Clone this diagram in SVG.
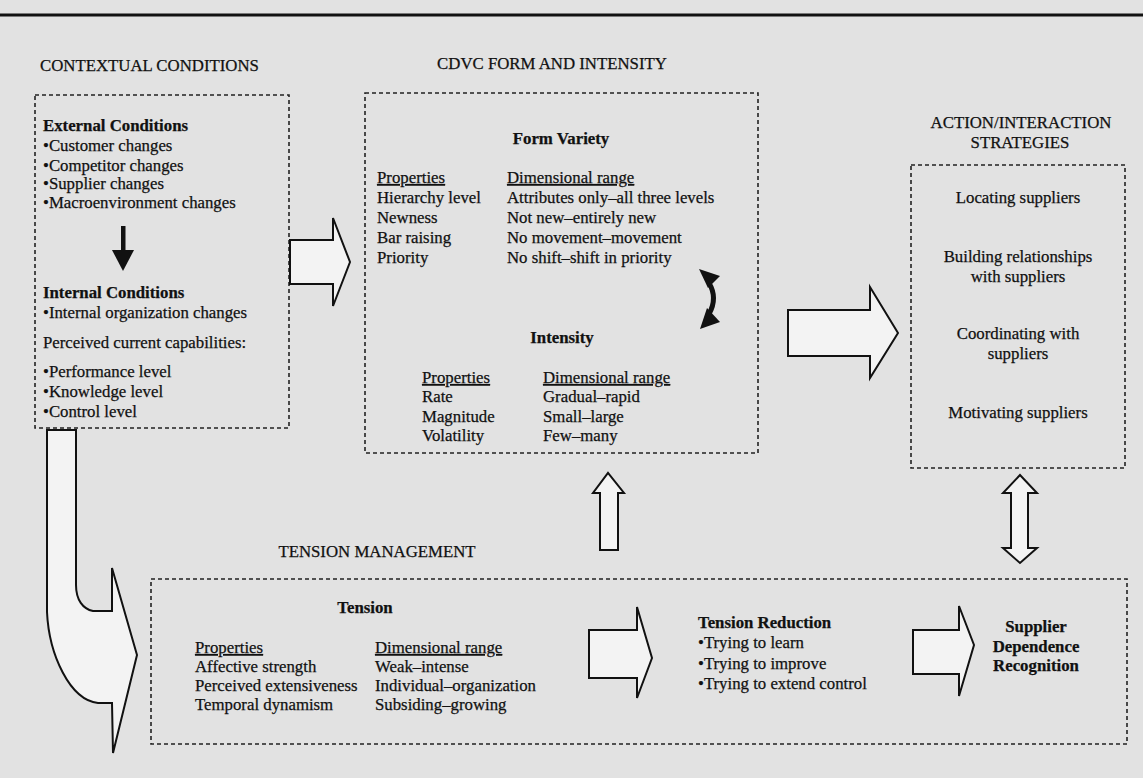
<svg xmlns="http://www.w3.org/2000/svg" width="1143" height="778" viewBox="0 0 1143 778">
<style>
text{font-family:"Liberation Serif","Times New Roman",serif;font-size:16.8px;fill:#111;stroke:#111;stroke-width:0.25}
.b{font-weight:bold}
.c{text-anchor:middle}
.u{text-decoration:underline}
.box{fill:none;stroke:#222;stroke-width:1.6;stroke-dasharray:4 3}
.arr{fill:#f3f3f3;stroke:#111;stroke-width:2;stroke-linejoin:miter}
.blk{fill:#111;stroke:none}
</style>
<rect width="1143" height="778" fill="#e2e2e2"/>
<line x1="0" y1="15" x2="1143" y2="15" stroke="#111" stroke-width="3"/>

<g id="contextual-conditions">
<text x="40" y="71">CONTEXTUAL CONDITIONS</text>
<rect class="box" x="35" y="95" width="254" height="333"/>
<text class="b" x="43" y="131">External Conditions</text>
<text x="43" y="151">•Customer changes</text>
<text x="43" y="171">•Competitor changes</text>
<text x="43" y="189">•Supplier changes</text>
<text x="43" y="208">•Macroenvironment changes</text>
<rect class="blk" x="121" y="226" width="4.5" height="26"/>
<polygon class="blk" points="112,250 134,250 123,271"/>
<text class="b" x="43" y="298">Internal Conditions</text>
<text x="43" y="318">•Internal organization changes</text>
<text x="43" y="348">Perceived current capabilities:</text>
<text x="43" y="377">•Performance level</text>
<text x="43" y="397">•Knowledge level</text>
<text x="43" y="417">•Control level</text>
</g>

<g id="cdvc-form-intensity">
<text class="c" x="552" y="69">CDVC FORM AND INTENSITY</text>
<rect class="box" x="365" y="93" width="393" height="360"/>
<text class="b c" x="561" y="144">Form Variety</text>
<text class="u" x="377" y="183">Properties</text>
<text class="u" x="507" y="183">Dimensional range</text>
<text x="377" y="203">Hierarchy level</text>
<text x="507" y="203">Attributes only–all three levels</text>
<text x="377" y="223">Newness</text>
<text x="507" y="223">Not new–entirely new</text>
<text x="377" y="243">Bar raising</text>
<text x="507" y="243">No movement–movement</text>
<text x="377" y="263">Priority</text>
<text x="507" y="263">No shift–shift in priority</text>
<path d="M 709 283 Q 718 298 709 314" fill="none" stroke="#111" stroke-width="5"/>
<polygon class="blk" points="699,269 720,276 708,288"/>
<polygon class="blk" points="700,329 720,322 707,308"/>
<text class="b c" x="562" y="343">Intensity</text>
<text class="u" x="422" y="383">Properties</text>
<text class="u" x="543" y="383">Dimensional range</text>
<text x="422" y="402">Rate</text>
<text x="543" y="402">Gradual–rapid</text>
<text x="422" y="422">Magnitude</text>
<text x="543" y="422">Small–large</text>
<text x="422" y="441">Volatility</text>
<text x="543" y="441">Few–many</text>
</g>

<g id="action-interaction-strategies">
<text class="c" x="1021" y="128">ACTION/INTERACTION</text>
<text class="c" x="1020" y="148">STRATEGIES</text>
<rect class="box" x="911" y="165" width="214" height="303"/>
<text class="c" x="1018" y="203">Locating suppliers</text>
<text class="c" x="1018" y="262">Building relationships</text>
<text class="c" x="1018" y="282">with suppliers</text>
<text class="c" x="1018" y="339">Coordinating with</text>
<text class="c" x="1018" y="359">suppliers</text>
<text class="c" x="1018" y="418">Motivating suppliers</text>
</g>

<g id="tension-management">
<text class="c" x="377" y="557">TENSION MANAGEMENT</text>
<rect class="box" x="151" y="579" width="976" height="165"/>
<text class="b c" x="365" y="613">Tension</text>
<text class="u" x="195" y="653">Properties</text>
<text class="u" x="375" y="653">Dimensional range</text>
<text x="195" y="672">Affective strength</text>
<text x="375" y="672">Weak–intense</text>
<text x="195" y="691">Perceived extensiveness</text>
<text x="375" y="691">Individual–organization</text>
<text x="195" y="710">Temporal dynamism</text>
<text x="375" y="710">Subsiding–growing</text>
</g>

<g id="tension-reduction">
<text class="b" x="698" y="628">Tension Reduction</text>
<text x="698" y="648">•Trying to learn</text>
<text x="698" y="669">•Trying to improve</text>
<text x="698" y="689">•Trying to extend control</text>
</g>

<g id="supplier-dependence-recognition">
<text class="b c" x="1036" y="632">Supplier</text>
<text class="b c" x="1036" y="652">Dependence</text>
<text class="b c" x="1036" y="671">Recognition</text>
</g>

<g id="connectors">
<polygon class="arr" points="290,240 333,240 333,218 350,262 333,306 333,284 290,284"/>
<polygon class="arr" points="788,310 870,310 870,287 898,333 870,378 870,356 788,356"/>
<polygon class="arr" points="600,550 600,493 593,493 608,473 624,493 618,493 618,550"/>
<polygon class="arr" points="1011,493 1003,493 1020,475 1037,493 1028,493 1028,548 1037,548 1020,563 1003,548 1011,548"/>
<polygon class="arr" points="589,630 637,630 637,607 652,658 637,698 637,678 589,678"/>
<polygon class="arr" points="913,630 959,630 959,606 974,645 959,696 959,674 913,674"/>
<path class="arr" d="M 47 430 L 47 612 C 49 655 70 700 98 703 L 112 703 L 113 753 L 137 655 L 112 568 L 112 611 L 93 611 C 83 609 76 600 76 585 L 76 430 Z"/>
</g>
</svg>
